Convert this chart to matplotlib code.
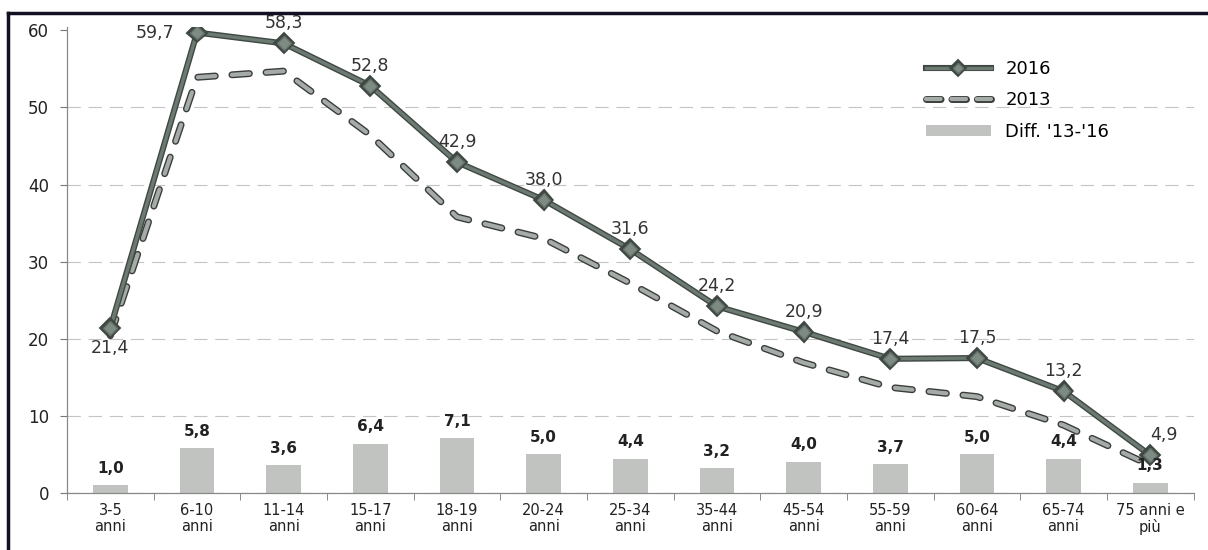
import numpy as np
import matplotlib
matplotlib.use("Agg")
import matplotlib.pyplot as plt
import matplotlib.patheffects as pe
from matplotlib.lines import Line2D
from matplotlib.patches import Patch

# --- dati ---
categorie = ["3-5\nanni", "6-10\nanni", "11-14\nanni", "15-17\nanni", "18-19\nanni",
             "20-24\nanni", "25-34\nanni", "35-44\nanni", "45-54\nanni", "55-59\nanni",
             "60-64\nanni", "65-74\nanni", "75 anni e\npiù"]
val_2016 = [21.4, 59.7, 58.3, 52.8, 42.9, 38.0, 31.6, 24.2, 20.9, 17.4, 17.5, 13.2, 4.9]
val_2013 = [20.4, 53.9, 54.7, 46.4, 35.8, 33.0, 27.2, 21.0, 16.9, 13.7, 12.5, 8.8, 3.6]
diff_13_16 = [1.0, 5.8, 3.6, 6.4, 7.1, 5.0, 4.4, 3.2, 4.0, 3.7, 5.0, 4.4, 1.3]

def fmt(v):
    return f"{v:.1f}".replace(".", ",")

fig = plt.figure(figsize=(12.08, 5.5), dpi=100)
ax = fig.add_axes([0.0555, 0.1036, 0.9325, 0.847])

x = np.arange(len(categorie))

# barre differenza
ax.bar(x, diff_13_16, width=0.4, color="#c0c3c0", zorder=2)

# linea 2013 tratteggiata con contorno scuro
stroke_2013 = [pe.Stroke(linewidth=5.0, foreground="#3a3d3b"), pe.Normal()]
ax.plot(x, val_2013, color="#a5aca7", linewidth=3.0, dashes=(4.2, 4.0),
        dash_capstyle="round", zorder=3, path_effects=stroke_2013)

# linea 2016 continua con rombi
stroke_2016 = [pe.Stroke(linewidth=4.4, foreground="#3f4843"), pe.Normal()]
ax.plot(x, val_2016, color="#6c7a72", linewidth=2.4, marker="D", markersize=7,
        markerfacecolor="#7d8b83", markeredgecolor="#66736c", markeredgewidth=1, zorder=4,
        path_effects=stroke_2016)

# etichette 2016
offset_2016 = {0: (0, -8), 1: (-30, 0), 12: (10, 8)}
for i, v in enumerate(val_2016):
    dx, dy = offset_2016.get(i, (0, 8))
    va = "bottom" if dy > 0 else ("top" if dy < 0 else "center")
    ax.annotate(fmt(v), (i, v), xytext=(dx, dy), textcoords="offset points",
                ha="center", va=va, fontsize=12.5, color="#333333", zorder=5)

# etichette differenza
for i, v in enumerate(diff_13_16):
    ax.annotate(fmt(v), (i, v), xytext=(0, 7), textcoords="offset points",
                ha="center", va="bottom", fontsize=11, fontweight="bold",
                color="#222222", zorder=5)

ax.set_xlim(-0.5, len(categorie) - 0.5)
ax.set_ylim(0, 60.4)
ax.set_yticks(range(0, 61, 10))
ax.set_xticks(x)
ax.set_xticklabels(categorie, fontsize=10.5, color="#222222", linespacing=1.1)
ax.set_xticks(np.arange(-0.5, len(categorie), 1), minor=True)
ax.tick_params(axis="x", which="major", length=0, pad=7)
ax.tick_params(axis="x", which="minor", length=5, color="#777777", direction="out")
ax.tick_params(axis="y", length=5, color="#777777", labelsize=12, pad=8, labelcolor="#222222")

ax.yaxis.grid(True, color="#c4c4c4", linewidth=0.8, dashes=(12, 7))
ax.get_ygridlines()[-1].set_visible(False)
ax.set_axisbelow(True)
for s in ["top", "right"]:
    ax.spines[s].set_visible(False)
for s in ["left", "bottom"]:
    ax.spines[s].set_color("#888888")
    ax.spines[s].set_linewidth(0.9)

# legenda
h2016 = Line2D([], [], color="#6c7a72", linewidth=2.4, marker="D", markersize=5,
               markerfacecolor="#7d8b83", markeredgecolor="#66736c",
               path_effects=stroke_2016)
h2013 = Line2D([], [], color="#a5aca7", linewidth=3.0, dashes=(3.5, 2.6),
               dash_capstyle="round", path_effects=stroke_2013)
hdiff = Patch(facecolor="#c0c3c0", edgecolor="none")
ax.legend([h2016, h2013, hdiff], ["2016", "2013", "Diff. '13-'16"],
          loc="upper left", bbox_to_anchor=(0.748, 0.965), frameon=False,
          fontsize=13, handlelength=3.6, handleheight=0.6, labelspacing=0.75,
          handletextpad=0.8)

# cornice esterna (bordo superiore e sinistro)
fig.add_artist(Line2D([8 / 1208, 1], [1 - 13 / 550, 1 - 13 / 550],
                      transform=fig.transFigure, color="#111122", linewidth=2.5))
fig.add_artist(Line2D([8 / 1208, 8 / 1208], [0, 1 - 13 / 550],
                      transform=fig.transFigure, color="#111122", linewidth=2.5))

fig.savefig("out.png", dpi=100)
